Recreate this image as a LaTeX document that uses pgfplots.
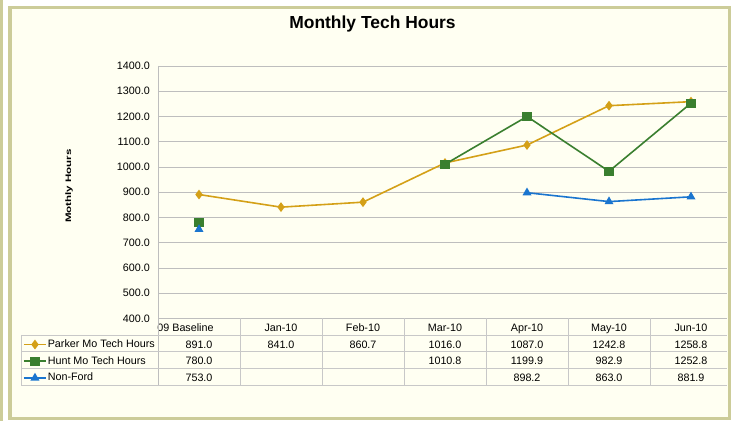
\documentclass[border=0pt]{standalone}
\usepackage{pgfplots}
\pgfplotsset{compat=1.18}
\usepackage{fontspec}
\setmainfont{Liberation Sans}
\definecolor{parker}{HTML}{D4A017}
\definecolor{hunt}{HTML}{3A7F2F}
\definecolor{nonford}{HTML}{1A75CF}
\definecolor{framec}{HTML}{CCCC99}
\definecolor{bgc}{HTML}{FFFFF2}
\definecolor{gridc}{HTML}{BEBEBE}
\definecolor{tabc}{HTML}{C8C8C8}
\newcommand{\tf}{\fontsize{10.8}{12}\selectfont}
\begin{document}
\begin{tikzpicture}
\path[use as bounding box] (0bp,0bp) rectangle (733bp,421bp);
\fill[white] (0bp,0bp) rectangle (733bp,421bp);
\fill[framec] (0bp,0bp) rectangle (3bp,421bp);
\fill[bgc] (8bp,1bp) rectangle (731bp,415bp);
\begin{axis}[
  at={(158bp,102.5bp)}, anchor=south west, scale only axis,
  width=569bp, height=252.5bp,
  xmin=-0.5, xmax=6.439, ymin=400, ymax=1400,
  xtick={0,1,2,3,4,5,6},
  xticklabels={\hspace*{-27bp}09 Baseline,Jan-10,Feb-10,Mar-10,Apr-10,May-10,Jun-10},
  ytick={400,500,600,700,800,900,1000,1100,1200,1300,1400},
  ymajorgrids, grid style={gridc, line width=0.8bp},
  axis line style={draw=none},
  major tick length=0pt,
  tick style={draw=none},
  /pgf/number format/fixed, /pgf/number format/fixed zerofill,
  /pgf/number format/precision=1, /pgf/number format/1000 sep={},
  /pgf/number format/assume math mode=true,
  ticklabel style={font=\tf},
  yticklabel style={anchor=east, inner sep=0pt, xshift=-8bp},
  xticklabel style={anchor=base, inner sep=0pt, yshift=-12.6bp},
  unbounded coords=jump,
  clip=false,
  legend cell align=left,
  legend style={at={(-0.2373,-0.0693)}, anchor=north west, draw=none, fill=none,
    inner sep=0pt, row sep=0pt, column sep=1bp, font=\tf,
    nodes={inner xsep=0pt, inner ysep=3.45bp, text height=7.8bp, text depth=2bp}},
  legend image code/.code={\draw[mark repeat=2, mark phase=2, #1] plot coordinates {(0bp,0bp)(11bp,0bp)(22bp,0bp)};},
]
\addplot[parker, line width=1.6bp, mark=diamond*, mark size=3.6bp, mark options={solid}]
  coordinates {(0,891.0)(1,841.0)(2,860.7)(3,1016.0)(4,1087.0)(5,1242.8)(6,1258.8)};
\addplot[hunt, line width=1.6bp, mark=square*, mark size=3.8bp, mark options={solid}]
  coordinates {(0,780.0)(1,nan)(2,nan)(3,1010.8)(4,1199.9)(5,982.9)(6,1252.8)};
\addplot[nonford, line width=1.6bp, mark=triangle*, mark size=3.6bp, mark options={solid}]
  coordinates {(0,753.0)(1,nan)(2,nan)(3,nan)(4,898.2)(5,863.0)(6,881.9)};
\legend{Parker Mo Tech Hours, Hunt Mo Tech Hours, Non-Ford}
\end{axis}
\begin{scope}[x=1bp,y=1bp]
% axis and data table lines
\draw[gridc, line width=0.8bp] (158,355) -- (158,35.3);
\draw[gridc, line width=0.8bp] (158,102.7) -- (727,102.7);
\foreach \yy in {86,69.3,52.7,35.3} \draw[tabc, line width=0.8bp] (21,\yy) -- (727,\yy);
\draw[tabc, line width=0.8bp] (21,86) -- (21,35.3);
\foreach \k in {1,...,6} \draw[tabc, line width=0.8bp] ({158+82*\k},102.7) -- ({158+82*\k},35.3);
% data table values
\begin{scope}[every node/.style={font=\tf, anchor=base, inner sep=0pt}]
\node at (199,72.7) {891.0}; \node at (281,72.7) {841.0}; \node at (363,72.7) {860.7};
\node at (445,72.7) {1016.0}; \node at (527,72.7) {1087.0}; \node at (609,72.7) {1242.8};
\node at (691,72.7) {1258.8};
\node at (199,56.1) {780.0}; \node at (445,56.1) {1010.8}; \node at (527,56.1) {1199.9};
\node at (609,56.1) {982.9}; \node at (691,56.1) {1252.8};
\node at (199,39.6) {753.0}; \node at (527,39.6) {898.2}; \node at (609,39.6) {863.0};
\node at (691,39.6) {881.9};
\end{scope}
% titles
\node[font=\bfseries\fontsize{17.5}{20}\selectfont] at (372.5,397) {Monthly Tech Hours};
\node[rotate=90, font=\bfseries\fontsize{8}{9}\selectfont] at (69,235) {\scalebox{1.45}[1]{Mothly Hours}};
% frame
\draw[framec, line width=3.5bp] (9.75,2.75) rectangle (729.25,413.25);
\end{scope}
\end{tikzpicture}
\end{document}
